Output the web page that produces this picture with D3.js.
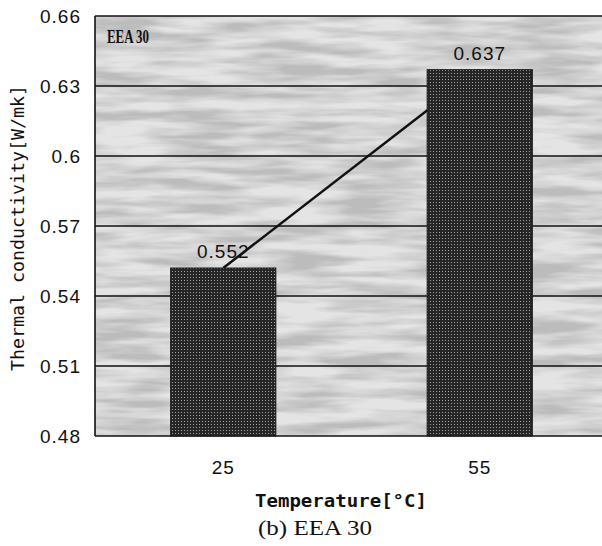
<!doctype html>
<html>
  <head>
    <meta charset="utf-8">
    <title>Thermal conductivity - EEA 30</title>
    <style>
      body { margin: 0; background: #fff; }
      svg { display: block; }
      .tick-label { font-family: "Liberation Sans", Arial, sans-serif; font-size: 19px; letter-spacing: 1px; fill: #111; }
      .mono { font-family: "DejaVu Sans Mono", monospace; fill: #111; }
      .serif { font-family: "Liberation Serif", "Times New Roman", serif; fill: #111; }
    </style>
  </head>
  <body>
    <div id="chart"></div>

    <script src="https://d3js.org/d3.v7.min.js"></script>
    <script>
      // data
      const temperatures = ['25', '55'];
      const conductivity = [0.552, 0.637];
      const yTicks = [0.48, 0.51, 0.54, 0.57, 0.6, 0.63, 0.66];
      const yTickLabels = ['0.48', '0.51', '0.54', '0.57', '0.6', '0.63', '0.66'];
      const panelLabel = 'EEA 30';

      const width = 602, height = 546;
      const margin = { top: 16, right: -6, bottom: 110, left: 95 };

      const svg = d3.select('#chart')
        .append('svg')
        .attr('width', width)
        .attr('height', height);

      const x = d3.scaleBand()
        .domain(temperatures)
        .range([margin.left, width - margin.right])
        .paddingInner(0.59)
        .paddingOuter(0.295);

      const y = d3.scaleLinear()
        .domain([0.48, 0.66])
        .range([height - margin.bottom, margin.top]);

      const defs = svg.append('defs');

      // mottled scan-like background
      const bgFilter = defs.append('filter')
        .attr('id', 'mottle')
        .attr('x', 0).attr('y', 0).attr('width', 1).attr('height', 1);
      bgFilter.append('feTurbulence')
        .attr('type', 'fractalNoise')
        .attr('baseFrequency', '0.012 0.09')
        .attr('numOctaves', 3)
        .attr('seed', 4)
        .attr('result', 'noise');
      bgFilter.append('feColorMatrix')
        .attr('in', 'noise')
        .attr('type', 'matrix')
        .attr('values', '0 0 0 0 0.5  0 0 0 0 0.5  0 0 0 0 0.5  0 0 0 -2.6 1.75')
        .attr('result', 'shade');
      bgFilter.append('feComposite')
        .attr('in', 'shade')
        .attr('in2', 'SourceGraphic')
        .attr('operator', 'over');

      // dotted dark fill for bars
      const barPattern = defs.append('pattern')
        .attr('id', 'bar-dots')
        .attr('patternUnits', 'userSpaceOnUse')
        .attr('width', 3)
        .attr('height', 3);
      barPattern.append('rect').attr('width', 3).attr('height', 3).attr('fill', '#262626');
      barPattern.append('rect').attr('x', 1).attr('y', 1).attr('width', 1).attr('height', 1).attr('fill', '#a0a0a0');

      const plotLeft = margin.left, plotRight = width - margin.right;

      svg.append('rect')
        .attr('x', plotLeft)
        .attr('y', y(0.66))
        .attr('width', plotRight - plotLeft)
        .attr('height', y(0.48) - y(0.66))
        .attr('fill', '#e4e4e4')
        .attr('filter', 'url(#mottle)');

      // gridlines
      svg.append('g')
        .selectAll('line')
        .data(yTicks)
        .join('line')
        .attr('x1', plotLeft)
        .attr('x2', plotRight)
        .attr('y1', d => y(d))
        .attr('y2', d => y(d))
        .attr('stroke', '#111')
        .attr('stroke-width', 1.6);

      // connecting line between bar tops (behind the bars)
      const line = d3.line()
        .x((d, i) => x(temperatures[i]) + x.bandwidth() / 2)
        .y(d => y(d));

      svg.append('path')
        .datum(conductivity)
        .attr('d', line)
        .attr('fill', 'none')
        .attr('stroke', '#111')
        .attr('stroke-width', 2.5);

      svg.append('g')
        .selectAll('rect')
        .data(conductivity)
        .join('rect')
        .attr('x', (d, i) => x(temperatures[i]))
        .attr('y', d => y(d))
        .attr('width', x.bandwidth())
        .attr('height', d => y(0.48) - y(d))
        .attr('fill', 'url(#bar-dots)')
        .attr('stroke', '#1a1a1a')
        .attr('stroke-width', 1);

      // left axis line
      svg.append('line')
        .attr('x1', plotLeft).attr('x2', plotLeft)
        .attr('y1', y(0.66)).attr('y2', y(0.48))
        .attr('stroke', '#111')
        .attr('stroke-width', 1.6);

      // value labels
      svg.append('g')
        .selectAll('text')
        .data(conductivity)
        .join('text')
        .attr('class', 'tick-label')
        .attr('x', (d, i) => x(temperatures[i]) + x.bandwidth() / 2)
        .attr('y', d => y(d) - 10)
        .attr('text-anchor', 'middle')
        .text(d => d);

      // y tick labels
      svg.append('g')
        .selectAll('text')
        .data(yTicks)
        .join('text')
        .attr('class', 'tick-label')
        .attr('x', 81)
        .attr('y', d => y(d))
        .attr('dy', '0.35em')
        .attr('text-anchor', 'end')
        .text((d, i) => yTickLabels[i]);

      // x tick labels
      svg.append('g')
        .selectAll('text')
        .data(temperatures)
        .join('text')
        .attr('class', 'tick-label')
        .attr('x', d => x(d) + x.bandwidth() / 2)
        .attr('y', 467)
        .attr('dy', '0.35em')
        .attr('text-anchor', 'middle')
        .text(d => d);

      // panel label inside plot
      svg.append('text')
        .attr('class', 'serif')
        .attr('x', 107)
        .attr('y', 43)
        .style('font-size', '19px')
        .style('font-weight', 'bold')
        .attr('textLength', 42)
        .attr('lengthAdjust', 'spacingAndGlyphs')
        .text('EEA  30');

      // axis titles
      svg.append('text')
        .attr('class', 'mono')
        .attr('x', 341)
        .attr('y', 501)
        .attr('dy', '0.35em')
        .attr('text-anchor', 'middle')
        .attr('textLength', 172)
        .attr('lengthAdjust', 'spacingAndGlyphs')
        .style('font-size', '18px')
        .style('font-weight', 'bold')
        .text('Temperature[°C]');

      svg.append('text')
        .attr('class', 'mono')
        .attr('transform', 'translate(18, 228) rotate(-90)')
        .attr('dy', '0.35em')
        .attr('text-anchor', 'middle')
        .attr('textLength', 286)
        .attr('lengthAdjust', 'spacingAndGlyphs')
        .style('font-size', '17px')
        .text('Thermal conductivity[W/mk]');

      // caption
      svg.append('text')
        .attr('class', 'serif')
        .attr('x', 315)
        .attr('y', 527)
        .attr('dy', '0.35em')
        .attr('text-anchor', 'middle')
        .attr('textLength', 114)
        .attr('lengthAdjust', 'spacingAndGlyphs')
        .style('font-size', '22px')
        .text('(b) ' + panelLabel);
    </script>
  </body>
</html>
